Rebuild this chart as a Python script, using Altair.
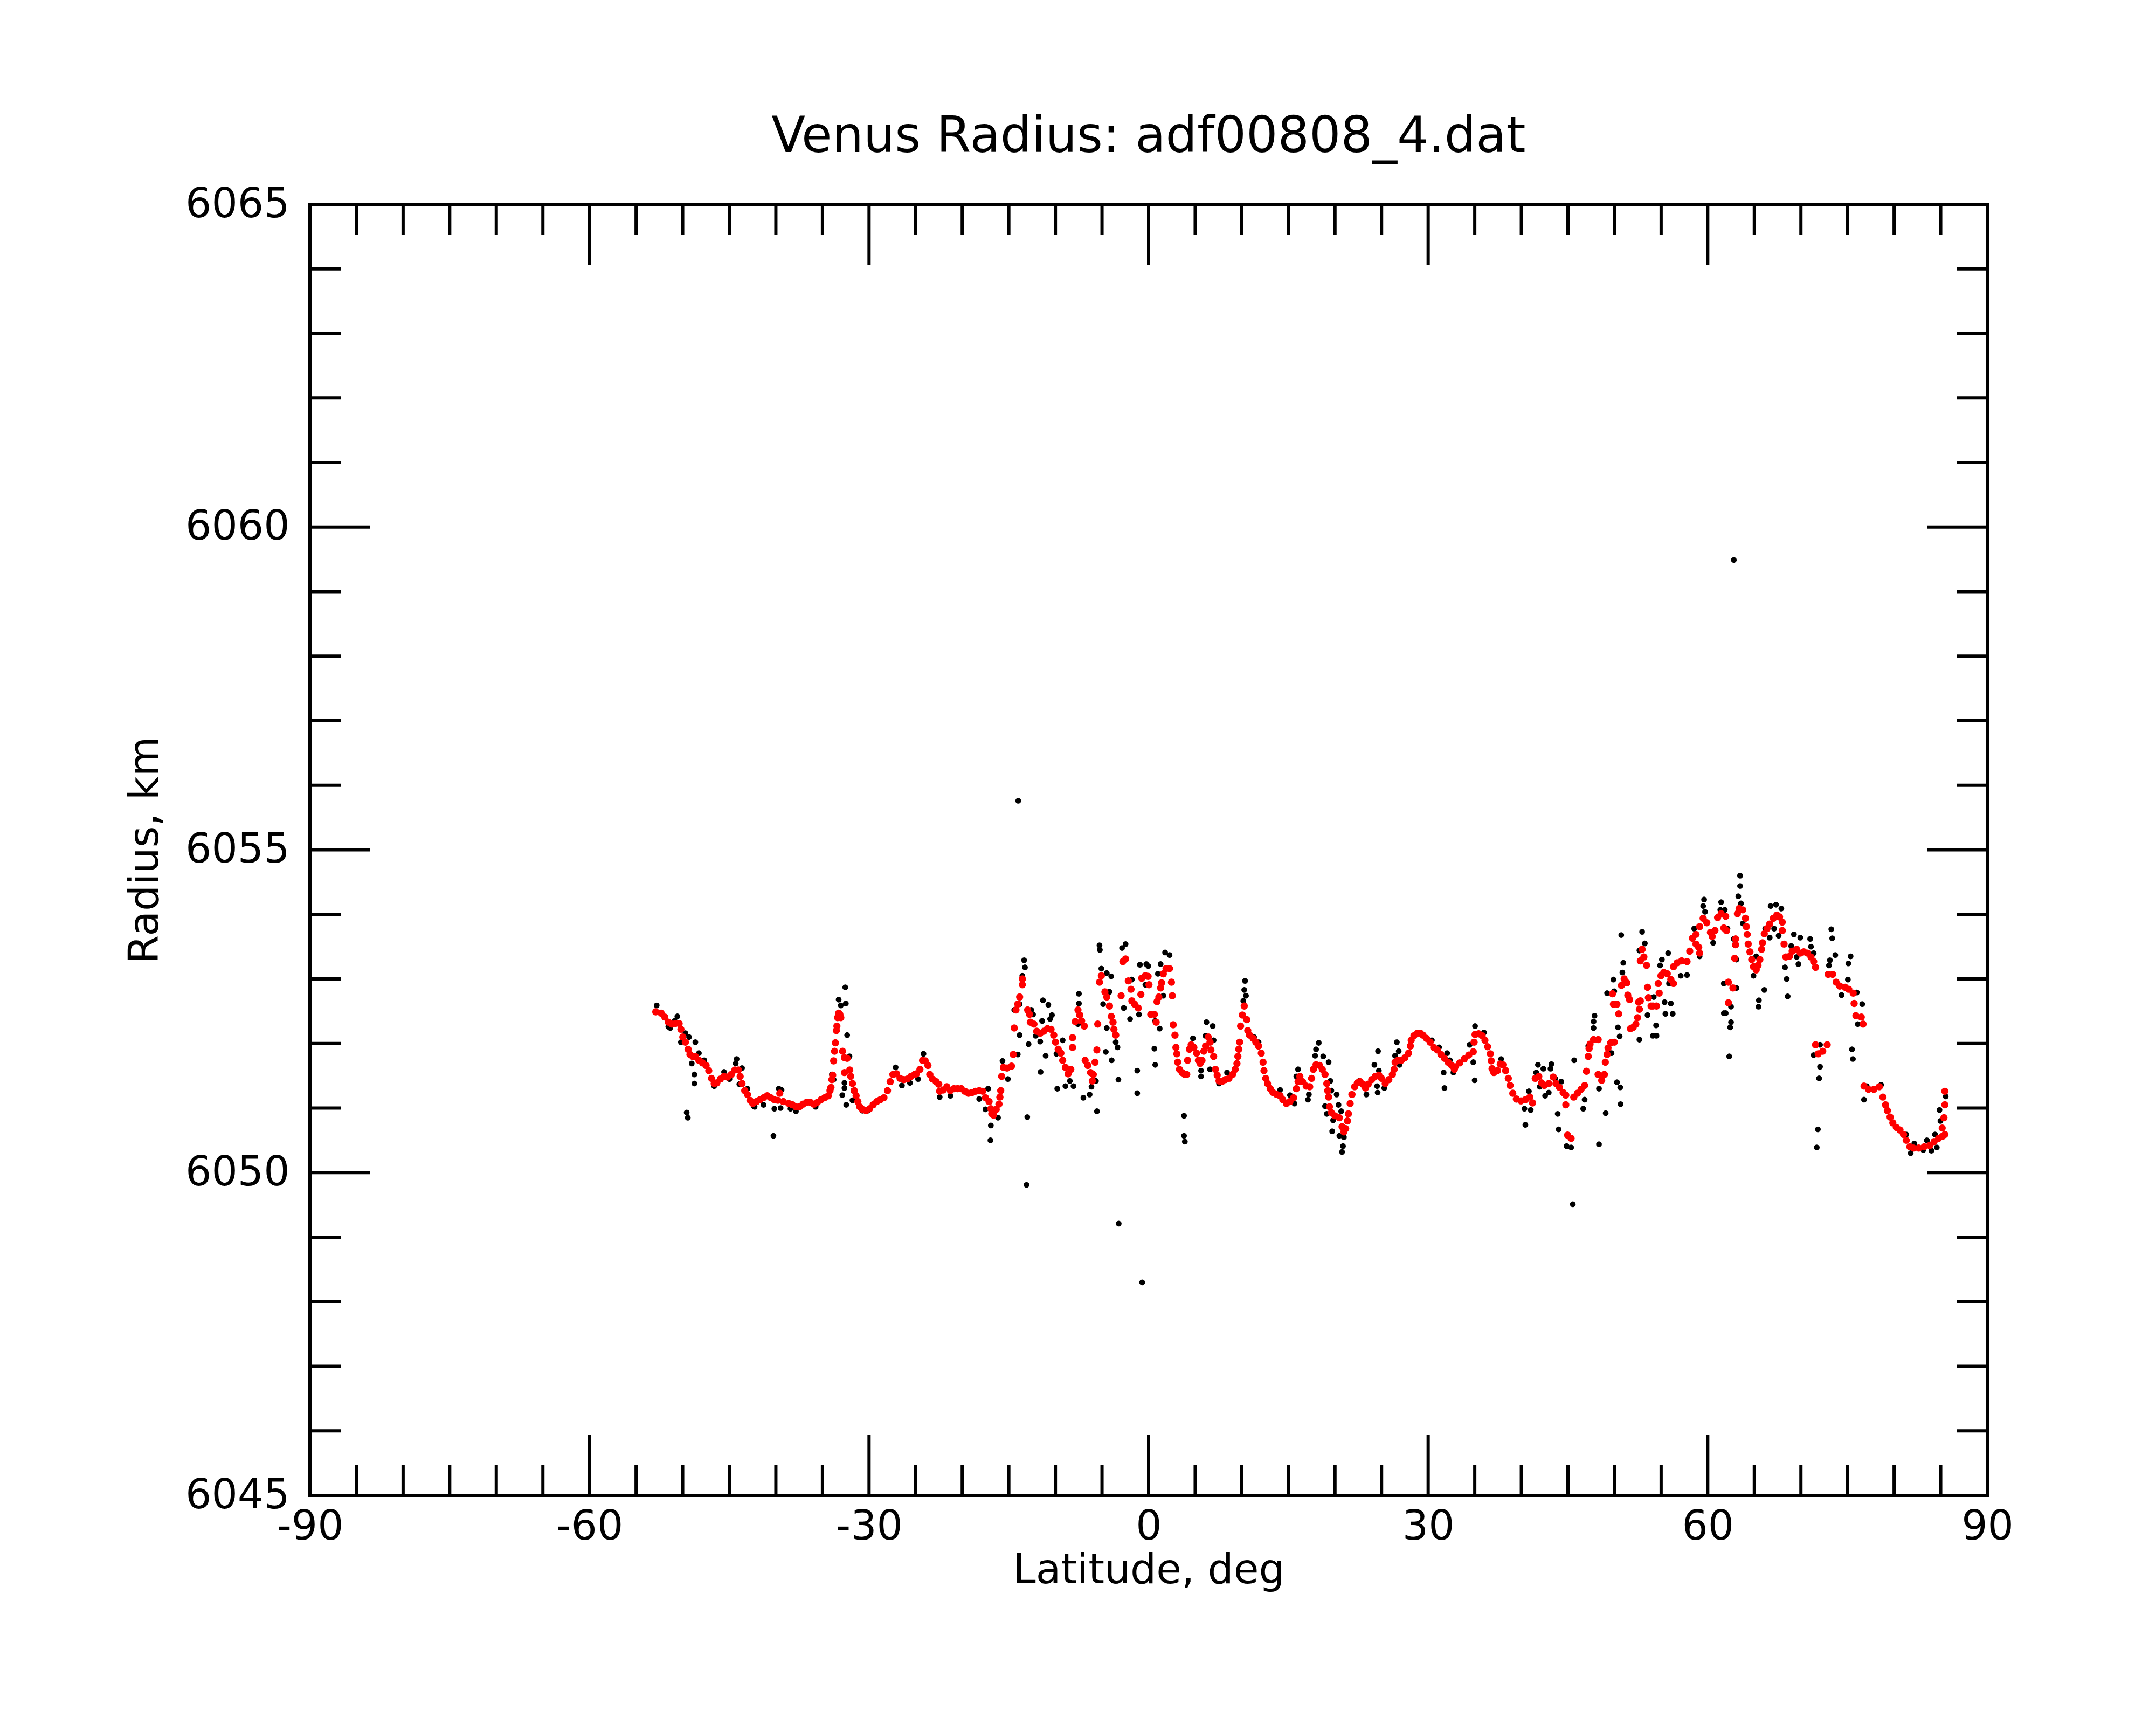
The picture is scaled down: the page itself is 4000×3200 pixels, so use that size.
import altair as alt
import pandas as pd

# ---------------- data ----------------
red_lat = [
    -52.89, -52.31, -51.92, -51.54, -51.15, -50.77, -50.38, -50.19, -49.99, -49.71,
    -49.42, -49.22, -48.93, -48.64, -48.26, -47.87, -47.49, -47.20, -46.91, -46.62,
    -46.33, -45.95, -45.56, -45.17, -44.79, -44.40, -44.02, -43.83, -43.63, -43.34,
    -43.05, -42.77, -42.48, -42.09, -41.70, -41.32, -40.93, -40.55, -40.16, -39.78,
    -39.58, -39.20, -38.62, -38.23, -37.85, -37.46, -37.08, -36.69, -36.31, -35.92,
    -35.53, -35.15, -34.76, -34.38, -34.19, -34.09, -33.99, -33.90, -33.80, -33.70,
    -33.61, -33.51, -33.45, -33.38, -33.26, -33.13, -33.03, -32.84, -32.64, -32.35,
    -32.64, -32.07, -31.97, -31.78, -31.58, -31.39, -31.20, -31.00, -30.71, -30.33,
    -29.94, -29.56, -29.17, -28.79, -28.40, -28.02, -27.73, -27.44, -27.05, -26.67,
    -26.28, -25.90, -25.51, -25.12,
    -24.93, -24.54, -24.26, -23.97, -23.68, -23.48, -23.20, -22.81, -22.52, -22.42,
    -22.04, -21.65, -21.27, -20.88, -20.50, -20.11, -19.72, -19.34, -18.95, -18.57,
    -18.18, -17.80, -17.51, -17.12, -16.93, -16.83, -16.64, -16.35, -16.06, -15.96,
    -15.87, -15.77, -15.58, -15.19, -14.71, -14.52, -14.42, -14.23, -14.04, -13.84,
    -13.55, -13.55, -12.98, -12.78, -12.69, -12.30, -12.01, -11.63, -11.24, -10.86,
    -10.47, -10.18, -9.99, -9.70, -9.41, -9.22, -8.93, -8.64, -8.35, -8.16,
    -8.16, -7.87, -7.58, -7.39, -7.19, -6.90, -6.81, -6.52, -6.23, -6.04,
    -5.94, -5.75, -5.55, -5.46, -5.27, -5.07, -4.69, -4.49, -4.20, -4.01,
    -3.82, -3.72, -3.53, -2.95, -2.76, -2.47, -2.18, -1.89, -1.80, -1.51,
    -1.12, -0.83, -0.74, -0.35, -0.06, 0.04, 0.23, 0.62, 0.81, 0.90,
    1.10, 1.29, 1.39, 1.58, 1.87, 2.25, 2.45, 2.54, 2.64, 2.83,
    2.93, 3.03, 3.12, 3.31, 3.60, 3.89,
    4.09, 4.18, 4.38, 4.57, 4.86, 5.15, 5.34, 5.53, 5.73, 5.92,
    6.11, 6.40, 6.59, 6.69, 6.98, 7.17, 7.36, 7.56, 7.85, 8.23,
    8.62, 9.00, 9.29, 9.48, 9.58, 9.68, 9.77, 9.87, 10.06, 10.26,
    10.54, 10.64, 10.83, 11.22, 11.51, 11.80, 12.09, 12.28, 12.38, 12.57,
    12.76, 13.05, 13.34, 13.73, 14.11, 14.40, 14.79, 15.17, 15.56, 15.85,
    16.04, 16.23, 16.52, 16.91, 17.29, 17.49, 17.68, 17.97, 18.35, 18.64,
    18.93, 19.12, 19.22, 19.32, 19.41, 19.61, 19.99, 20.47, 20.76, 20.96,
    21.15, 21.34, 21.44, 21.63, 21.82, 22.11, 22.40, 22.69, 22.98, 23.27,
    23.56, 23.94, 24.33, 24.71, 25.00, 25.39, 25.78, 26.16, 26.35, 26.45,
    26.74, 27.12, 27.51, 27.90, 28.09, 28.18, 28.47, 28.86, 29.15, 29.44,
    29.82, 30.21, 30.59, 30.98, 31.37, 31.75, 32.14, 32.52, 32.81,
    32.91, 33.39, 33.87, 34.36, 34.84, 34.93, 35.03, 35.42, 35.80, 36.09,
    36.38, 36.67, 36.77, 36.86, 37.05, 37.44, 37.73, 38.02, 38.31, 38.60,
    38.79, 39.08, 39.46, 39.95, 40.43, 40.91, 41.20, 41.49, 41.87, 42.16,
    42.45, 42.94, 43.42, 43.71, 44.09, 44.48, 44.77, 44.77, 44.96, 45.34,
    45.63, 46.02, 46.41, 46.79, 46.98, 47.18, 47.27, 47.37, 47.75, 48.24,
    48.24, 48.62, 48.91, 49.01, 49.20, 49.30, 49.59, 49.97, 49.78, 49.88,
    50.26, 50.45, 50.74, 51.03, 51.32, 51.42, 51.61, 51.71, 52.00, 52.29,
    52.48, 52.57, 52.67, 52.77, 52.77, 52.96, 53.15, 53.44, 53.54, 53.63,
    53.92, 54.12, 54.50, 54.79, 54.69, 54.98, 55.27, 55.66, 56.04, 56.33,
    56.33, 56.72, 57.20, 57.78, 58.07, 58.36, 58.74, 59.03, 59.13, 58.74,
    59.13, 59.51, 59.90, 60.29, 60.48, 60.77, 61.06, 61.44, 61.73,
    61.93, 62.02, 62.22, 62.70, 62.22, 62.89, 62.99, 62.99, 63.18, 63.37,
    63.76, 64.05, 64.14, 64.24, 64.34, 64.53, 64.72, 64.91, 65.20, 65.40,
    65.59, 65.78, 65.88, 66.07, 66.36, 66.65, 67.04, 67.42, 67.71, 68.00,
    68.00, 68.19, 68.38, 68.77, 69.06, 69.54, 69.93, 70.31, 70.70, 71.08,
    71.37, 71.57, 71.57, 71.85, 72.34, 72.82, 72.92, 73.40, 73.78, 74.17,
    74.75, 75.13, 75.61, 75.71, 75.90, 76.48, 76.67, 76.77, 77.25, 77.83,
    78.41, 78.80, 79.08, 79.28, 79.57, 79.86, 80.24, 80.63, 81.01, 81.30,
    81.69, 82.07, 82.65, 83.23, 83.81, 84.29, 84.77, 85.16, 85.45, 85.16,
    85.35, 85.45, 85.45,
]
red_rad = [
    6052.49, 6052.47, 6052.41, 6052.33, 6052.30, 6052.31, 6052.31, 6052.22, 6052.10, 6052.02,
    6051.91, 6051.83, 6051.80, 6051.80, 6051.74, 6051.70, 6051.66, 6051.58, 6051.46, 6051.38,
    6051.39, 6051.45, 6051.49, 6051.48, 6051.52, 6051.59, 6051.59, 6051.49, 6051.38, 6051.27,
    6051.21, 6051.12, 6051.07, 6051.10, 6051.13, 6051.16, 6051.19, 6051.16, 6051.13, 6051.12,
    6051.23, 6051.10, 6051.07, 6051.05, 6051.02, 6051.02, 6051.06, 6051.09, 6051.09, 6051.06,
    6051.09, 6051.13, 6051.16, 6051.19, 6051.27, 6051.32, 6051.44, 6051.51, 6051.73, 6051.88,
    6052.01, 6052.20, 6052.27, 6052.40, 6052.47, 6052.45, 6052.40, 6051.88, 6051.78, 6051.77,
    6051.55, 6051.59, 6051.49, 6051.38, 6051.27, 6051.19, 6051.10, 6051.02, 6050.98, 6050.96,
    6050.99, 6051.05, 6051.10, 6051.13, 6051.16, 6051.27, 6051.41, 6051.52, 6051.53, 6051.46,
    6051.44, 6051.45, 6051.49, 6051.52,
    6051.53, 6051.60, 6051.74, 6051.73, 6051.66, 6051.52, 6051.45, 6051.41, 6051.37, 6051.26,
    6051.28, 6051.33, 6051.27, 6051.30, 6051.30, 6051.30, 6051.26, 6051.23, 6051.24, 6051.26,
    6051.27, 6051.26, 6051.16, 6051.10, 6050.99, 6050.91, 6050.89, 6050.98, 6051.06, 6051.17,
    6051.27, 6051.49, 6051.63, 6051.62, 6051.65, 6051.83, 6052.24, 6052.52, 6052.61, 6052.72,
    6052.91, 6053.00, 6052.52, 6052.45, 6052.33, 6052.30, 6052.19, 6052.16, 6052.19, 6052.23,
    6052.22, 6052.13, 6052.02, 6051.91, 6051.85, 6051.74, 6051.63, 6051.53, 6051.60, 6052.09,
    6051.94, 6052.34, 6052.52, 6052.44, 6052.35, 6052.27, 6051.74, 6051.66, 6051.55, 6051.42,
    6051.52, 6051.71, 6051.90, 6052.30, 6052.95, 6053.05, 6052.80, 6052.72, 6052.58, 6052.42,
    6052.33, 6052.22, 6052.13, 6052.74, 6053.27, 6053.31, 6052.97, 6052.84, 6052.66, 6052.61,
    6052.55, 6052.76, 6053.01, 6053.05, 6053.04, 6052.91, 6052.45, 6052.45, 6052.33, 6052.65,
    6052.72, 6052.86, 6052.94, 6053.08, 6053.16, 6053.16, 6052.95, 6052.74, 6052.29, 6052.13,
    6051.94, 6051.84, 6051.71, 6051.60, 6051.55, 6051.52,
    6051.52, 6051.74, 6051.91, 6051.98, 6051.94, 6051.85, 6051.74, 6051.69, 6051.74, 6051.88,
    6051.96, 6052.10, 6052.02, 6051.90, 6051.80, 6051.60, 6051.51, 6051.42, 6051.41, 6051.44,
    6051.46, 6051.52, 6051.60, 6051.69, 6051.80, 6051.91, 6052.02, 6052.27, 6052.44, 6052.58,
    6052.37, 6052.20, 6052.13, 6052.08, 6052.02, 6051.96, 6051.85, 6051.71, 6051.58, 6051.46,
    6051.38, 6051.30, 6051.24, 6051.21, 6051.19, 6051.13, 6051.07, 6051.10, 6051.16, 6051.30,
    6051.41, 6051.49, 6051.41, 6051.34, 6051.33, 6051.46, 6051.60, 6051.67, 6051.66, 6051.60,
    6051.52, 6051.38, 6051.27, 6051.17, 6051.02, 6050.93, 6050.88, 6050.85, 6050.71, 6050.63,
    6050.68, 6050.80, 6050.91, 6051.07, 6051.21, 6051.33, 6051.39, 6051.41, 6051.37, 6051.31,
    6051.37, 6051.44, 6051.49, 6051.51, 6051.46, 6051.38, 6051.44, 6051.52, 6051.60, 6051.71,
    6051.74, 6051.74, 6051.78, 6051.85, 6051.96, 6052.05, 6052.12, 6052.16, 6052.16, 6052.13,
    6052.08, 6052.02, 6051.94, 6051.90, 6051.83, 6051.77, 6051.71, 6051.66, 6051.60,
    6051.64, 6051.70, 6051.76, 6051.82, 6051.87, 6052.02, 6052.14, 6052.15, 6052.12, 6052.05,
    6051.95, 6051.84, 6051.73, 6051.61, 6051.55, 6051.58, 6051.68, 6051.67, 6051.58, 6051.46,
    6051.35, 6051.23, 6051.14, 6051.11, 6051.13, 6051.17, 6051.08, 6051.46, 6051.49, 6051.39,
    6051.35, 6051.38, 6051.48, 6051.38, 6051.32, 6051.24, 6051.20, 6051.05, 6050.58, 6050.53,
    6051.17, 6051.23, 6051.29, 6051.35, 6051.57, 6051.80, 6051.92, 6051.99, 6052.06, 6052.06,
    6051.52, 6051.43, 6051.52, 6051.71, 6051.83, 6051.93, 6052.01, 6052.02, 6052.77, 6052.61,
    6052.61, 6052.46, 6052.90, 6053.00, 6052.94, 6052.75, 6052.68, 6052.23, 6052.25, 6052.30,
    6052.40, 6052.64, 6052.53, 6052.66, 6053.28, 6053.46, 6053.34, 6053.21, 6052.87, 6052.71,
    6052.58, 6052.58, 6052.58, 6052.78, 6052.93, 6053.05, 6053.10, 6053.08, 6052.99, 6052.93,
    6053.19, 6053.25, 6053.28, 6053.27, 6053.43, 6053.63, 6053.54, 6053.49, 6053.40, 6053.69,
    6053.81, 6053.94, 6053.87, 6053.72, 6053.66, 6053.75, 6053.95, 6054.01, 6053.79,
    6053.97, 6053.75, 6052.95, 6052.86, 6052.63, 6053.32, 6053.53, 6053.62, 6054.01, 6054.09,
    6054.07, 6053.94, 6053.81, 6053.69, 6053.54, 6053.42, 6053.30, 6053.19, 6053.14, 6053.21,
    6053.30, 6053.46, 6053.56, 6053.70, 6053.78, 6053.85, 6053.94, 6053.99, 6053.96, 6053.88,
    6053.75, 6053.54, 6053.34, 6053.35, 6053.43, 6053.46, 6053.40, 6053.42, 6053.40, 6053.34,
    6053.27, 6053.18, 6051.98, 6051.84, 6051.88, 6051.98, 6053.07, 6053.07, 6052.95, 6052.89,
    6052.87, 6052.84, 6052.78, 6052.62, 6052.43, 6052.41, 6052.30, 6051.34, 6051.29, 6051.29,
    6051.33, 6051.17, 6051.05, 6050.96, 6050.86, 6050.77, 6050.70, 6050.66, 6050.59, 6050.50,
    6050.40, 6050.38, 6050.38, 6050.40, 6050.42, 6050.48, 6050.53, 6050.56, 6050.59, 6050.69,
    6050.85, 6051.05, 6051.26,
]

black_lat = [
    -52.79, -50.57, -50.86, -51.34, -50.19, -49.71, -49.32, -48.64, -49.03, -48.74,
    -48.74, -49.57, -49.45, -48.26, -47.68, -46.62, -45.56, -44.98, -44.21, -44.31,
    -43.63, -43.92, -43.05, -42.38, -41.32, -40.16, -39.68, -39.39, -39.49, -38.43,
    -37.85, -40.26, -35.73, -32.55, -33.26, -33.03, -32.49, -32.35, -32.10, -32.64,
    -32.64, -32.87, -32.45, -31.78, -31.68, -27.15, -26.47, -25.61, -33.80, -33.99,
    -51.54, -42.28, -30.71, -30.14,
    -24.16, -24.74, -22.42, -21.27, -18.18, -17.22, -17.51, -16.93, -16.97, -16.16,
    -15.68, -15.10, -14.04, -13.36, -13.27, -13.55, -14.42, -13.84, -13.84, -12.88,
    -13.02, -12.59, -12.40, -11.43, -11.34, -10.76, -10.37, -10.57, -12.11, -11.63,
    -11.05, -11.59, -9.89, -9.22, -9.80, -8.93, -8.45, -8.06, -7.48, -7.48,
    -7.58, -7.00, -6.33, -6.13, -5.54, -5.65, -5.27, -5.23, -5.07, -4.49,
    -4.01, -4.88, -4.20, -4.49, -4.59, -3.96, -3.53, -3.34, -3.24, -2.66,
    -2.85, -2.47, -1.99, -1.80, -1.22, -1.22, -1.03, -0.93, -0.25, -0.04,
    -0.35, 0.62, 0.71, 1.19, 1.00, 1.29, 1.77, 2.25, 1.58, 0.71,
    3.80, 3.80, 3.89,
    4.76, 5.63, 5.63, 6.21, 6.88, 6.11, 6.98, 6.59, 7.56, 8.42,
    10.35, 10.26, 10.45, 10.16, 11.32, 11.80, 14.11, 15.17, 15.65, 16.04,
    15.85, 17.10, 17.20, 18.26, 17.97, 17.87, 18.74, 19.32, 19.51, 19.61,
    20.18, 20.38, 18.93, 19.12, 20.67, 19.70, 19.80, 20.47, 20.96, 20.86,
    20.76, 22.59, 23.37, 24.23, 24.62, 24.71, 24.52, 24.58, 25.29, 26.64,
    26.84, 26.45, 26.93, 29.05, 30.40, 31.17, 32.04, 32.33, 31.66, 31.75,
    32.71,
    35.03, 34.45, 34.84, 34.99, 35.99, 37.83, 39.46, 40.33, 40.43, 41.01,
    40.81, 41.78, 41.59, 42.36, 43.22, 43.13, 41.97, 42.55, 42.94, 43.61,
    44.28, 43.90, 44.00, 44.86, 45.34, 45.67, 46.79, 46.64, 48.33, 47.18,
    47.85, 47.75, 47.75, 48.33, 49.05, 50.26, 50.61, 50.65, 49.68, 49.88,
    49.97, 49.20, 50.94, 50.84, 50.36, 50.55, 50.72, 52.96, 53.25, 52.67,
    52.67, 54.12, 54.50, 54.46, 53.54, 54.21, 55.37, 56.04, 55.46, 56.24,
    55.75, 55.08, 54.89, 55.85, 57.10, 57.78, 58.55, 59.61, 59.51, 59.71,
    59.13, 60.58, 61.44, 61.35, 61.73, 61.73,
    63.47, 63.47, 63.28, 63.57, 61.83, 63.76, 62.79, 62.89, 63.08, 62.12,
    63.08, 62.50, 61.93, 62.50, 62.41, 62.31, 64.91, 65.20, 66.07, 65.49,
    65.45, 66.17, 66.65, 66.75, 67.33, 67.90, 67.61, 67.13, 68.29, 68.48,
    68.58, 68.96, 69.25, 69.93, 69.73, 69.54, 70.99, 71.08, 71.37, 73.26,
    73.36, 73.69, 73.11, 73.01, 74.36, 75.04, 75.33, 75.09, 76.00, 76.58,
    76.10, 75.48, 75.58, 72.05, 71.37, 72.05, 71.95, 71.82, 71.70, 76.77,
    77.06, 78.60, 81.30, 81.78, 82.17, 83.13, 83.52, 84.00, 84.39, 84.58,
    84.87, 84.97, 85.54,
    -13.99, 62.80, -13.10, -3.21, -0.69, 45.52,
]
black_rad = [
    6052.59, 6052.42, 6052.35, 6052.24, 6052.02, 6052.16, 6052.10, 6052.02, 6051.69, 6051.52,
    6051.38, 6050.93, 6050.85, 6051.85, 6051.74, 6051.34, 6051.56, 6051.45, 6051.76, 6051.69,
    6051.62, 6051.37, 6051.30, 6051.03, 6051.05, 6050.99, 6051.30, 6051.28, 6051.00, 6050.99,
    6050.95, 6050.57, 6051.02, 6052.87, 6052.68, 6052.59, 6052.62, 6052.13, 6051.80, 6051.39,
    6051.31, 6051.20, 6051.05, 6051.12, 6051.27, 6051.63, 6051.35, 6051.39, 6051.44, 6051.52,
    6052.26, 6051.02, 6050.96, 6050.96,
    6051.84, 6051.45, 6051.17, 6051.19, 6051.14, 6051.30, 6050.98, 6050.73, 6050.50, 6050.85,
    6051.73, 6051.45, 6051.83, 6053.29, 6053.18, 6053.05, 6052.52, 6052.61, 6052.13, 6051.99,
    6050.86, 6052.52, 6052.45, 6052.35, 6052.67, 6052.60, 6052.44, 6052.38, 6052.12, 6052.03,
    6051.81, 6051.56, 6051.84, 6052.05, 6051.30, 6051.34, 6051.42, 6051.34, 6052.77, 6052.62,
    6052.30, 6051.16, 6051.21, 6051.33, 6050.95, 6051.42, 6053.52, 6053.45, 6053.16, 6053.09,
    6053.04, 6052.61, 6052.80, 6052.24, 6051.87, 6051.74, 6052.02, 6051.94, 6051.44, 6052.55,
    6053.48, 6053.54, 6052.38, 6052.99, 6051.58, 6051.23, 6052.45, 6053.22, 6053.23, 6053.20,
    6052.91, 6051.92, 6051.67, 6052.23, 6053.08, 6053.23, 6053.41, 6053.37, 6052.74, 6052.35,
    6050.88, 6050.57, 6050.48,
    6052.08, 6051.58, 6051.49, 6052.33, 6052.27, 6052.12, 6052.05, 6051.60, 6051.38, 6051.55,
    6052.97, 6052.83, 6052.74, 6052.66, 6052.10, 6052.02, 6051.28, 6051.20, 6051.07, 6051.60,
    6051.49, 6051.13, 6051.21, 6052.01, 6051.91, 6051.81, 6051.80, 6051.71, 6051.42, 6051.27,
    6051.21, 6051.05, 6051.03, 6050.91, 6050.95, 6050.64, 6050.81, 6050.57, 6050.55, 6050.41,
    6050.32, 6051.42, 6051.21, 6051.67, 6051.88, 6051.58, 6051.34, 6051.24, 6051.31, 6052.02,
    6051.88, 6051.81, 6051.67, 6052.17, 6052.05, 6051.94, 6051.85, 6051.74, 6051.55, 6051.31,
    6051.55,
    6052.27, 6051.98, 6051.71, 6051.43, 6052.17, 6051.76, 6051.13, 6050.99, 6050.74, 6050.97,
    6051.26, 6051.67, 6051.55, 6051.61, 6051.68, 6051.61, 6051.33, 6051.19, 6051.24, 6051.46,
    6051.41, 6050.91, 6050.67, 6050.41, 6050.39, 6051.74, 6051.13, 6050.99, 6050.44, 6051.96,
    6052.43, 6052.34, 6052.24, 6051.30, 6050.92, 6051.40, 6051.32, 6051.06, 6051.85, 6052.99,
    6052.81, 6052.78, 6053.25, 6053.10, 6052.25, 6052.11, 6053.68, 6053.73, 6053.55, 6053.44,
    6052.06, 6052.12, 6052.12, 6052.28, 6052.44, 6052.72, 6052.64, 6052.62, 6052.46, 6052.46,
    6053.40, 6053.30, 6053.21, 6052.93, 6053.05, 6053.06, 6053.78, 6054.23, 6054.13, 6054.04,
    6053.35, 6053.56, 6054.19, 6054.07, 6052.93, 6052.47,
    6054.60, 6054.44, 6054.28, 6054.17, 6054.07, 6053.86, 6053.62, 6053.53, 6053.30, 6053.78,
    6052.86, 6052.57, 6052.47, 6052.33, 6052.25, 6051.80, 6053.05, 6053.35, 6052.83, 6052.67,
    6052.57, 6053.78, 6053.64, 6054.13, 6054.15, 6054.09, 6053.67, 6053.78, 6053.18, 6053.00,
    6052.73, 6053.51, 6053.69, 6053.64, 6053.23, 6053.34, 6053.62, 6053.50, 6053.40, 6053.77,
    6053.63, 6053.37, 6053.29, 6053.21, 6052.75, 6052.99, 6053.35, 6053.24, 6052.79, 6052.61,
    6052.30, 6051.91, 6051.76, 6051.98, 6051.82, 6051.64, 6051.46, 6050.67, 6050.39, 6051.13,
    6051.34, 6051.36, 6050.59, 6050.30, 6050.45, 6050.35, 6050.50, 6050.34, 6050.59, 6050.39,
    6050.97, 6050.80, 6051.18,
    6055.76, 6059.49, 6049.81, 6049.21, 6048.30, 6049.51,
]

x_major = [-90, -60, -30, 0, 30, 60, 90]
x_minor = [-85, -80, -75, -70, -65, -55, -50, -45, -40, -35, -25, -20, -15, -10, -5,
           5, 10, 15, 20, 25, 35, 40, 45, 50, 55, 65, 70, 75, 80, 85]
y_major = [6045, 6050, 6055, 6060, 6065]
y_minor = [6046, 6047, 6048, 6049, 6051, 6052, 6053, 6054, 6056, 6057, 6058, 6059,
           6061, 6062, 6063, 6064]

title_text = "Venus Radius: adf00808_4.dat"
x_title = "Latitude, deg"
y_title = "Radius, km"

# ---------------- layout / style ----------------
W, H = 3112, 2395
FONT = "DejaVu Sans"
FS = 76
MINOR, MAJOR = 57, 112
LW = 6

red_df = pd.DataFrame({"lat": red_lat, "rad": red_rad})
black_df = pd.DataFrame({"lat": black_lat, "rad": black_rad})
xmaj_df = pd.DataFrame({"v": x_major})
xmin_df = pd.DataFrame({"v": x_minor})
ymaj_df = pd.DataFrame({"v": y_major})
ymin_df = pd.DataFrame({"v": y_minor})

xs = alt.Scale(domain=[-90, 90], nice=False, zero=False)
ys = alt.Scale(domain=[6045, 6065], nice=False, zero=False)

x_axis = alt.Axis(
    values=x_major, title=x_title, ticks=False, tickSize=0, domain=False, grid=False,
    labelFont=FONT, labelFontSize=FS, labelColor="black", labelPadding=21,
    labelFlush=False, labelOverlap=False, labelLimit=0, labelExpr="'' + datum.value",
    titleFont=FONT, titleFontSize=FS, titleFontWeight="normal", titleColor="black",
    titleY=162, titleBaseline="alphabetic", titleLimit=0,
)
y_axis = alt.Axis(
    values=y_major, title=y_title, ticks=False, tickSize=0, domain=False, grid=False,
    labelFont=FONT, labelFontSize=FS, labelColor="black", labelPadding=38,
    labelFlush=False, labelOverlap=False, labelLimit=0, labelExpr="'' + datum.value",
    titleFont=FONT, titleFontSize=FS, titleFontWeight="normal", titleColor="black",
    titleX=-283, titleY=H / 2, titleAngle=270, titleAlign="center",
    titleBaseline="alphabetic", titleLimit=0,
)

black_pts = alt.Chart(black_df).mark_circle(size=115, color="#000000", opacity=1).encode(
    x=alt.X("lat:Q", scale=xs, axis=x_axis),
    y=alt.Y("rad:Q", scale=ys, axis=y_axis),
)
red_pts = alt.Chart(red_df).mark_circle(size=180, color="#ff0000", opacity=1).encode(
    x=alt.X("lat:Q", scale=xs, axis=x_axis),
    y=alt.Y("rad:Q", scale=ys, axis=y_axis),
)


def xticks(df, length):
    bottom = alt.Chart(df).mark_rule(color="black", strokeWidth=LW).encode(
        x=alt.X("v:Q", scale=xs, axis=x_axis), y=alt.value(H), y2=alt.value(H - length))
    top = alt.Chart(df).mark_rule(color="black", strokeWidth=LW).encode(
        x=alt.X("v:Q", scale=xs, axis=x_axis), y=alt.value(0), y2=alt.value(length))
    return [bottom, top]


def yticks(df, length):
    left = alt.Chart(df).mark_rule(color="black", strokeWidth=LW).encode(
        y=alt.Y("v:Q", scale=ys, axis=y_axis), x=alt.value(0), x2=alt.value(length))
    right = alt.Chart(df).mark_rule(color="black", strokeWidth=LW).encode(
        y=alt.Y("v:Q", scale=ys, axis=y_axis), x=alt.value(W), x2=alt.value(W - length))
    return [left, right]


layers = ([black_pts, red_pts]
          + xticks(xmin_df, MINOR) + xticks(xmaj_df, MAJOR)
          + yticks(ymin_df, MINOR) + yticks(ymaj_df, MAJOR))

chart = alt.layer(*layers).properties(
    width=W, height=H,
    title=alt.TitleParams(title_text, font=FONT, fontSize=92, fontWeight="normal",
                          color="black", anchor="middle", baseline="alphabetic",
                          offset=95, dy=128, frame="group"),
    autosize=alt.AutoSizeParams(type="none"),
    padding={"left": 567, "top": 371, "right": 300, "bottom": 400},
).configure_view(stroke="black", strokeWidth=LW)

chart.save("out.html", embed_options={"renderer": "svg", "actions": False})
